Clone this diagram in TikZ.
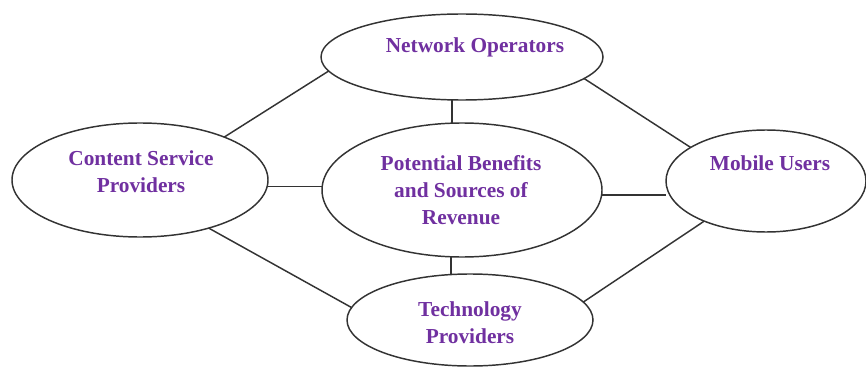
\documentclass[tikz,border=0pt]{standalone}
\usepackage{fontspec}
\setmainfont{Liberation Serif}
\usepackage{tikz}
\usetikzlibrary{shapes.geometric,backgrounds}
\definecolor{labelpurple}{HTML}{7030A0}

\begin{document}
\begin{tikzpicture}[x=0.75pt,y=-0.75pt,
    bubble/.style={ellipse, draw=black!80, fill=white, line width=1.1pt, inner sep=0pt, outer sep=0pt},
    caption/.style={text=labelpurple, font=\bfseries\fontsize{16}{20}\selectfont, align=center, inner sep=0pt},
    link/.style={draw=black!80, line width=1.1pt}]
    \useasboundingbox (0,0) rectangle (866,367);
    % the five ellipses
    \node (netop) [bubble, minimum width=211.5pt, minimum height=64.5pt] at (462,57) {};
    \node (content) [bubble, minimum width=192pt, minimum height=85.5pt] at (140,180) {};
    \node (benefits) [bubble, minimum width=210pt, minimum height=100.5pt] at (462,190) {};
    \node (mobile) [bubble, minimum width=150pt, minimum height=76.5pt] at (766,181) {};
    \node (techprov) [bubble, minimum width=184.5pt, minimum height=69pt] at (470,320) {};
    % their texts
    \node (netop-text) [caption, anchor=base] at (475,53) {Network Operators};
    \node (content-text) [caption] at (141,172) {Content Service\\Providers};
    \node (benefits-text) [caption] at (461,190) {Potential Benefits\\and Sources of\\Revenue};
    \node (mobile-text) [caption, anchor=base] at (770,171) {Mobile Users};
    \node (techprov-text) [caption] at (470,323) {Technology\\Providers};
    % connections, behind the ellipses
    \begin{scope}[on background layer]
    \draw [link] (content.27.7) -- (netop.186.3);
    \draw [link] (content.-3.15) -- (content.-3.15 -| benefits.west);
    \draw [link] (content.-35.5) -- (techprov.174.6);
    \draw [link] ([xshift=-7.5pt]netop.south) -- ([xshift=-7.5pt]netop.south |- benefits.north);
    \draw [link] ([xshift=-8.25pt]benefits.south) -- ([xshift=-8.25pt]benefits.south |- techprov.north);
    \draw [link] (benefits.-2.05) -- (benefits.-2.05 -| mobile.west);
    \draw [link] (netop.-10.8) -- (mobile.156.7);
    \draw [link] (techprov.9.05) -- (mobile.213.3);
    \end{scope}
\end{tikzpicture}
\end{document}
